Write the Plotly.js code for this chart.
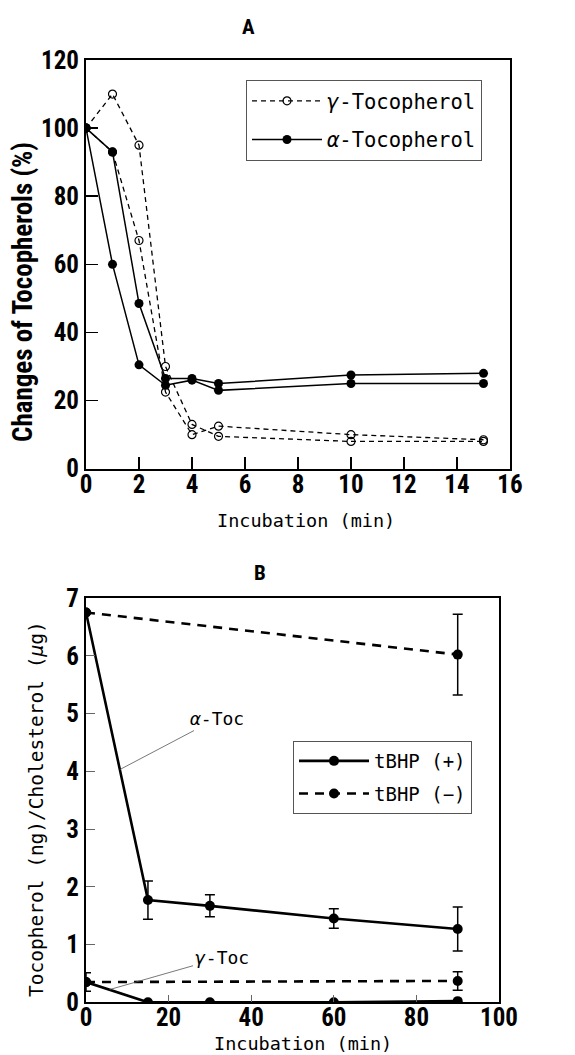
<!DOCTYPE html>
<html>
<head>
<meta charset="utf-8">
<script src="https://cdn.plot.ly/plotly-3.0.1.min.js"></script>
<style>
  html, body { margin: 0; padding: 0; background: #fff; }
  #chart { width: 575px; height: 1055px; }
</style>
</head>
<body>
<div id="chart"></div>
<script>
// Panel A: tocopherol remaining (% of initial), two replicate runs per form
const timeA = [0, 1, 2, 3, 4, 5, 10, 15];
const alphaRun1 = [100, 93, 48.5, 26.5, 26.5, 25, 27.5, 28];
const alphaRun2 = [100, 60, 30.5, 24.5, 26, 23, 25, 25];
const gammaRun1 = [100, 110, 95, 30, 13, 9.5, 8, 8];
const gammaRun2 = [100, 93, 67, 22.5, 10, 12.5, 10, 8.5];

// Panel B: tocopherol per cholesterol, with and without tBHP
const timeB = [0, 15, 30, 60, 90];
const alphaPlus = [6.75, 1.77, 1.67, 1.45, 1.27];
const alphaPlusErr = [0, 0.33, 0.19, 0.17, 0.38];
const gammaPlus = [0.35, 0, 0, 0, 0.02];
const timeMinus = [0, 90];
const alphaMinus = [6.75, 6.02];
const alphaMinusErr = [0, 0.7];
const gammaMinus = [0.35, 0.37];
const gammaMinusErr = [0.16, 0.16];

const W = 575, H = 1055;
const px = v => v / W;
const py = v => 1 - v / H;

const narrow = '"Liberation Sans Narrow", "Arial Narrow", "Roboto Condensed", "Open Sans Condensed", "Noto Sans", sans-serif';
const tickFont = {family: narrow, size: 25, color: '#000', weight: 'bold', stretch: 'condensed'};
const mono = '"DejaVu Sans Mono", "Liberation Mono", monospace';

const thinSolid = {color: '#000', width: 1.5};
const thinDash = {color: '#000', width: 1.3, dash: '5px,4px'};
const filled = {symbol: 'circle', size: 9, color: '#000'};
const hollow = {symbol: 'circle-open', size: 8, color: '#000', line: {width: 1.2, color: '#000'}};

const traces = [
  {x: timeA, y: gammaRun1, xaxis: 'x', yaxis: 'y', mode: 'lines+markers', name: '<i>γ</i>-Tocopherol',
   legendgroup: 'g', legend: 'legend', line: thinDash, marker: hollow},
  {x: timeA, y: gammaRun2, xaxis: 'x', yaxis: 'y', mode: 'lines+markers', name: '<i>γ</i>-Tocopherol',
   legendgroup: 'g', legend: 'legend', showlegend: false, line: thinDash, marker: hollow},
  {x: timeA, y: alphaRun1, xaxis: 'x', yaxis: 'y', mode: 'lines+markers', name: '<i>α</i>-Tocopherol',
   legendgroup: 'a', legend: 'legend', line: thinSolid, marker: filled},
  {x: timeA, y: alphaRun2, xaxis: 'x', yaxis: 'y', mode: 'lines+markers', name: '<i>α</i>-Tocopherol',
   legendgroup: 'a', legend: 'legend', showlegend: false, line: thinSolid, marker: filled},

  {x: timeB, y: alphaPlus, xaxis: 'x2', yaxis: 'y2', mode: 'lines+markers', name: 'tBHP (+)',
   legendgroup: 'p', legend: 'legend2',
   line: {color: '#000', width: 2.6}, marker: {symbol: 'circle', size: 10, color: '#000'},
   error_y: {type: 'data', array: alphaPlusErr, visible: true, color: '#000', thickness: 1.5, width: 5}},
  {x: timeB, y: gammaPlus, xaxis: 'x2', yaxis: 'y2', mode: 'lines+markers', name: 'tBHP (+)',
   legendgroup: 'p', legend: 'legend2', showlegend: false,
   line: {color: '#000', width: 2.6}, marker: {symbol: 'circle', size: 10, color: '#000'}},
  {x: timeMinus, y: alphaMinus, xaxis: 'x2', yaxis: 'y2', mode: 'lines+markers', name: 'tBHP (−)',
   legendgroup: 'm', legend: 'legend2',
   line: {color: '#000', width: 2.6, dash: '9px,7px'}, marker: {symbol: 'circle', size: 10, color: '#000'},
   error_y: {type: 'data', array: alphaMinusErr, visible: true, color: '#000', thickness: 1.5, width: 5}},
  {x: timeMinus, y: gammaMinus, xaxis: 'x2', yaxis: 'y2', mode: 'lines+markers', name: 'tBHP (−)',
   legendgroup: 'm', legend: 'legend2', showlegend: false,
   line: {color: '#000', width: 2.6, dash: '9px,7px'}, marker: {symbol: 'circle', size: 10, color: '#000'},
   error_y: {type: 'data', array: gammaMinusErr, visible: true, color: '#000', thickness: 1.5, width: 5}}
];

const axisBase = {
  showline: true, linecolor: '#000', linewidth: 2, mirror: true,
  showgrid: false, zeroline: false, ticks: 'inside', tickcolor: '#000',
  tickfont: tickFont, automargin: false, fixedrange: true
};

const centered = {xref: 'paper', yref: 'paper', showarrow: false, xanchor: 'center', yanchor: 'middle'};

const layout = {
  width: W, height: H,
  margin: {l: 0, r: 0, t: 0, b: 0},
  paper_bgcolor: '#fff', plot_bgcolor: '#fff',
  font: {family: mono, color: '#000'},
  xaxis: Object.assign({}, axisBase, {domain: [px(86), px(510)], range: [0, 16], dtick: 2, tick0: 0,
    ticklen: 12, tickwidth: 1.5, anchor: 'y', ticklabelstandoff: -8}),
  yaxis: Object.assign({}, axisBase, {domain: [py(468.7), py(60)], range: [0, 120], dtick: 20, tick0: 0,
    ticklen: 12, tickwidth: 1.5, anchor: 'x'}),
  xaxis2: Object.assign({}, axisBase, {domain: [px(86), px(499)], range: [0, 100], dtick: 20, tick0: 0,
    ticklen: 7, tickwidth: 1, tickcolor: '#666', anchor: 'y2', ticklabelstandoff: -8}),
  yaxis2: Object.assign({}, axisBase, {domain: [py(1002.3), py(598)], range: [0, 7], dtick: 1, tick0: 0,
    ticklen: 9, tickwidth: 1, tickcolor: '#666', anchor: 'x2'}),
  legend: {x: px(246), y: py(80), xanchor: 'left', yanchor: 'top',
    bordercolor: '#555', borderwidth: 1, bgcolor: '#fff',
    font: {family: mono, size: 20.5, color: '#000'}, itemwidth: 70, tracegroupgap: 9},
  legend2: {x: px(293), y: py(741), xanchor: 'left', yanchor: 'top',
    bordercolor: '#555', borderwidth: 1, bgcolor: '#fff',
    font: {family: mono, size: 19, color: '#000'}, itemwidth: 70, tracegroupgap: 5},
  annotations: [
    Object.assign({}, centered, {text: '<b>A</b>', x: px(248), y: py(27),
      font: {family: narrow, size: 21, color: '#000', stretch: 'condensed'}}),
    Object.assign({}, centered, {text: '<b>B</b>', x: px(260), y: py(573),
      font: {family: narrow, size: 21, color: '#000', stretch: 'condensed'}}),
    Object.assign({}, centered, {text: '<b>Changes of Tocopherols (%)</b>', x: px(23), y: py(292),
      textangle: -90, font: {family: narrow, size: 27, color: '#000', stretch: 'condensed'}}),
    Object.assign({}, centered, {text: 'Incubation (min)', x: px(306), y: py(520),
      font: {family: mono, size: 18.5, color: '#000'}}),
    Object.assign({}, centered, {text: 'Tocopherol (ng)/Cholesterol (<i>μ</i>g)', x: px(36), y: py(809),
      textangle: -90, font: {family: mono, size: 19.5, color: '#000'}}),
    Object.assign({}, centered, {text: 'Incubation (min)', x: px(303), y: py(1043),
      font: {family: mono, size: 18.5, color: '#000'}}),
    {text: '<i>α</i>-Toc', xref: 'x2', yref: 'y2', x: 8.2, y: 4.03, ax: 97, ay: -51,
     showarrow: true, arrowhead: 0, arrowwidth: 0.8, arrowcolor: '#555',
     font: {family: mono, size: 18, color: '#000'}},
    {text: '<i>γ</i>-Toc', xref: 'x2', yref: 'y2', x: 5.7, y: 0.22, ax: 112, ay: -32,
     showarrow: true, arrowhead: 0, arrowwidth: 0.8, arrowcolor: '#555',
     font: {family: mono, size: 18, color: '#000'}}
  ]
};

Plotly.newPlot('chart', traces, layout, {displayModeBar: false, staticPlot: true});
</script>
</body>
</html>
